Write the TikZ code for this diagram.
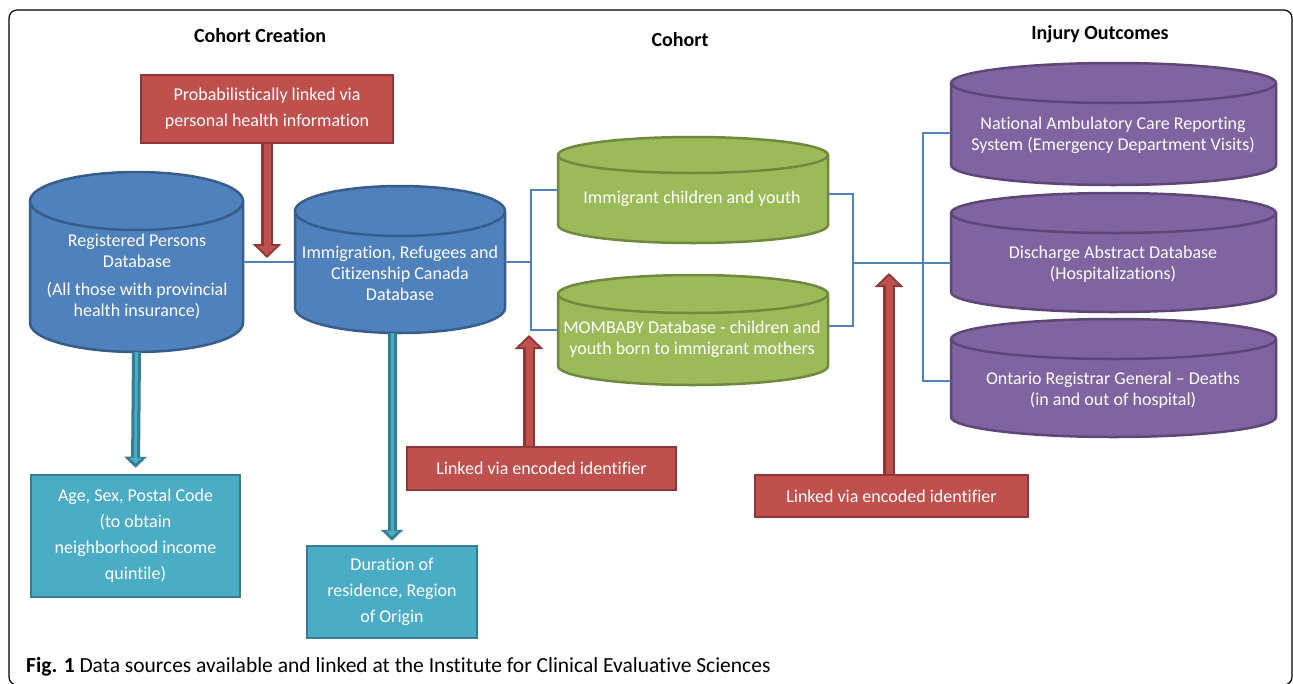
\documentclass[tikz,border=0pt]{standalone}
\usepackage{fontspec}
\setmainfont{Carlito}[Ligatures={TeX,NoCommon}]
\usetikzlibrary{arrows.meta}

\definecolor{bluFill}{HTML}{4F81BD} \definecolor{bluLine}{HTML}{385D8A}
\definecolor{grnFill}{HTML}{9BBB59} \definecolor{grnLine}{HTML}{71893F}
\definecolor{purFill}{HTML}{8064A2} \definecolor{purLine}{HTML}{5C4776}
\definecolor{redFill}{HTML}{C0504D} \definecolor{redLine}{HTML}{8C3836}
\definecolor{tealFill}{HTML}{4BACC6} \definecolor{tealLine}{HTML}{357D91}

% database drum: name, colour, x1, x2, ytop, ybot, ry
\newcommand{\dbdrum}[7]{%
  \node[inner sep=0pt, minimum width={#4-#3}, minimum height={#6-#5}] (#1) at ({(#3+#4)/2},{(#5+#6)/2}) {};
  \filldraw[fill=#2Fill, draw=#2Line, line width=2.5pt]
    (#3,#5+#7) arc[start angle=180, end angle=360, x radius={(#4-#3)/2}, y radius=#7]
    -- (#4,#6-#7) arc[start angle=0, end angle=180, x radius={(#4-#3)/2}, y radius=#7] -- cycle;
  \draw[#2Line, line width=2.5pt] (#3,#5+#7) arc[start angle=180, end angle=0, x radius={(#4-#3)/2}, y radius=#7];
}

\tikzset{
  dbtext/.style={text=white, align=center, font=\fontsize{18}{21}\selectfont},
  redbox/.style={fill=redFill, draw=redLine, line width=2.5pt, text=white, align=center,
    inner sep=0pt, font=\fontsize{18}{26}\selectfont},
  tealbox/.style={fill=tealFill, draw=tealLine, line width=2.5pt, text=white, align=center,
    inner sep=0pt, font=\fontsize{18}{26}\selectfont},
  heading/.style={font=\bfseries\fontsize{20}{22}\selectfont},
  link/.style={draw=bluFill, line width=2pt},
  redarrow/.style={draw=redLine, line width=12pt, -{Triangle[length=14pt,width=28pt]},
    postaction={draw=redFill, line width=7pt, -{Triangle[length=9pt,width=19pt]}, shorten >=3pt}},
  tealarrow/.style={draw=tealLine, line width=9pt, -{Triangle[length=11pt,width=22pt]},
    postaction={draw=tealFill, line width=3pt, -{Triangle[length=6pt,width=12pt]}, shorten >=4pt}},
}

\begin{document}
\begin{tikzpicture}[x=1pt, y=-1pt]
    \useasboundingbox (0,0) rectangle (1293,683);
    \draw[line width=1.2pt, rounded corners=8pt] (9,10) rectangle (1292,685);

    % headings
    \node[heading] (hcre) at (260,36) {Cohort Creation};
    \node[heading] (hcoh) at (680,40) {Cohort};
    \node[heading] (hinj) at (1100,34) {Injury Outcomes};

    % cohort creation
    \dbdrum{rpd}{blu}{30}{243}{172}{352}{29}
    \node[dbtext] at (137,276) {Registered Persons\\Database\\[7pt](All those with provincial\\health insurance)};
    \dbdrum{ircc}{blu}{295}{505}{186}{333}{25}
    \node[dbtext] at (400,273) {Immigration, Refugees and\\Citizenship Canada\\Database};

    \node[redbox, minimum width=252, minimum height=68] (plink) at (267,109)
        {Probabilistically linked via\\personal health information};
    \node[tealbox, minimum width=209, minimum height=122] (demo) at (135.5,536)
        {Age, Sex, Postal Code\\(to obtain\\neighborhood income\\quintile)};
    \node[tealbox, minimum width=170, minimum height=92] (resid) at (392,592)
        {Duration of\\residence, Region\\of Origin};

    % cohort
    \dbdrum{icy}{grn}{558}{828}{137}{243}{18}
    \node[dbtext] at (692,199) {Immigrant children and youth};
    \dbdrum{mom}{grn}{558}{828}{275}{385}{19}
    \node[dbtext] at (692,339) {MOMBABY Database - children and\\youth born to immigrant mothers};

    \node[redbox, minimum width=269, minimum height=43] (elinka) at (541.5,468.5)
        {Linked via encoded identifier};

    % injury outcomes
    \dbdrum{nacrs}{pur}{951}{1276}{63}{185}{20}
    \node[dbtext] at (1113,135) {National Ambulatory Care Reporting\\System (Emergency Department Visits)};
    \dbdrum{dad}{pur}{951}{1276}{193}{312}{20}
    \node[dbtext] at (1113,264) {Discharge Abstract Database\\(Hospitalizations)};
    \dbdrum{org}{pur}{951}{1276}{319}{437}{20}
    \node[dbtext] at (1113,390) {Ontario Registrar General -- Deaths\\(in and out of hospital)};

    \node[redbox, minimum width=273, minimum height=42] (elinkb) at (891.5,496)
        {Linked via encoded identifier};

    % connectors
    \coordinate (jl) at (531,262);
    \coordinate (jr) at (853,263);
    \coordinate (jo) at (923,263);
    \draw[link] (rpd.east) -- (ircc.west |- rpd.east);
    \draw[link] (ircc.east |- jl) -- (jl);
    \draw[link] (icy.west) -| (jl) |- (mom.west);
    \draw[link] ([yshift=-4pt]icy.east) -| (jr) |- ([yshift=4pt]mom.east);
    \draw[link] (jr) -- (dad.west |- jr);
    \draw[link] ([yshift=-9pt]nacrs.west) -| (jo) |- ([yshift=-3pt]org.west);

    % arrows
    \coordinate (plinkend) at (267,258);
    \coordinate (elinkaend) at (529,335);
    \coordinate (elinkbend) at (889,273);
    \draw[redarrow] (plink.south) -- (plinkend);
    \draw[redarrow] (elinka.north -| elinkaend) -- (elinkaend);
    \draw[redarrow] (elinkb.north -| elinkbend) -- (elinkbend);
    \draw[tealarrow] (rpd.south) -- ([yshift=6pt]demo.north);
    \draw[tealarrow] ([xshift=-8pt]ircc.south) -- ([yshift=4pt]resid.north);

    % caption
    \node[anchor=base west, inner sep=0pt, font=\fontsize{21.5}{24}\selectfont] (cap) at (26,672)
        {\textbf{Fig. 1} Data sources available and linked at the Institute for Clinical Evaluative Sciences};
\end{tikzpicture}
\end{document}
